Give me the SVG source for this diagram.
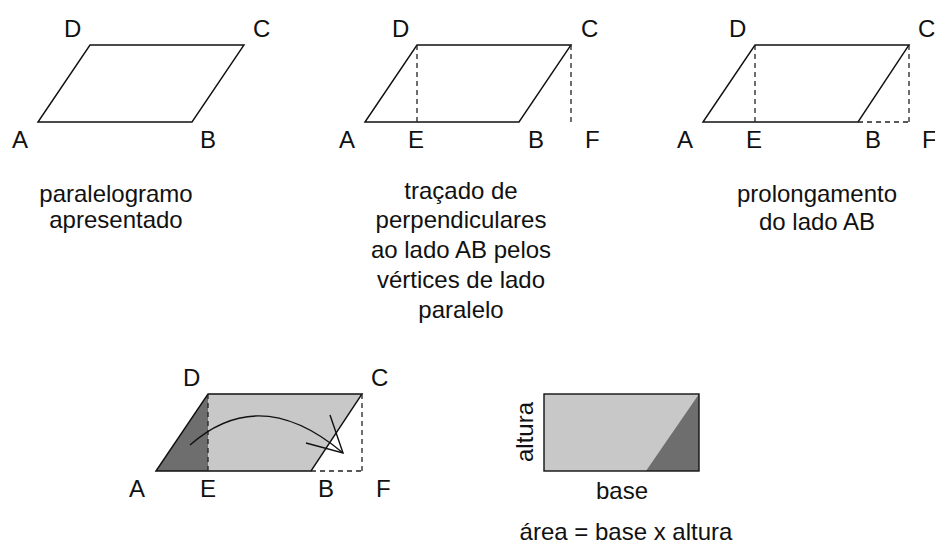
<svg xmlns="http://www.w3.org/2000/svg" width="935" height="546" viewBox="0 0 935 546">
<style>
.lbl{font-family:"Liberation Sans",Arial,sans-serif;font-size:24px;fill:#111}
.cap{font-family:"Liberation Sans",Arial,sans-serif;font-size:24px;fill:#111;text-anchor:middle}
.edge{fill:none;stroke:#111;stroke-width:1.4}
.dash{fill:none;stroke:#222;stroke-width:1.3;stroke-dasharray:5 4}
.light{fill:#c8c8c8}
.dark{fill:#6e6e6e}
</style>
<rect width="935" height="546" fill="#fff"/>

<g id="fig1">
<polygon class="edge" points="38,122 90,45 244,45 192,122"/>
<text class="lbl" x="64" y="37">D</text>
<text class="lbl" x="253" y="37">C</text>
<text class="lbl" x="12" y="148">A</text>
<text class="lbl" x="200" y="148">B</text>
<text class="cap" x="116" y="202">paralelogramo</text>
<text class="cap" x="116" y="228">apresentado</text>
</g>

<g id="fig2">
<polygon class="edge" points="365,122 417,45 571,45 519,122"/>
<text class="lbl" x="392" y="37">D</text>
<text class="lbl" x="581" y="37">C</text>
<text class="lbl" x="339" y="148">A</text>
<text class="lbl" x="408" y="148">E</text>
<text class="lbl" x="528" y="148">B</text>
<text class="lbl" x="585" y="148">F</text>
<text class="cap" x="461" y="199">traçado de</text>
<text class="cap" x="461" y="228">perpendiculares</text>
<text class="cap" x="461" y="258">ao lado AB pelos</text>
<text class="cap" x="461" y="288">vértices de lado</text>
<text class="cap" x="461" y="318">paralelo</text>
</g>

<g id="fig3">
<polygon class="edge" points="703,122 755,45 909,45 858,122"/>
<text class="lbl" x="729" y="37">D</text>
<text class="lbl" x="918" y="37">C</text>
<text class="lbl" x="677" y="148">A</text>
<text class="lbl" x="746" y="148">E</text>
<text class="lbl" x="865" y="148">B</text>
<text class="lbl" x="922" y="148">F</text>
<text class="cap" x="817" y="202">prolongamento</text>
<text class="cap" x="817" y="230">do lado AB</text>
</g>

<g id="fig4">
<polygon class="dark" points="156,471 208,394 208,471"/>
<polygon class="light" points="208,394 362,394 311,471 208,471"/>
<polygon class="edge" points="156,471 208,394 362,394 311,471"/>
<text class="lbl" x="183" y="386">D</text>
<text class="lbl" x="371" y="386">C</text>
<text class="lbl" x="129" y="497">A</text>
<text class="lbl" x="200" y="497">E</text>
<text class="lbl" x="318" y="497">B</text>
<text class="lbl" x="376" y="497">F</text>
</g>

<g id="fig5">
<rect class="light" x="544" y="394" width="155" height="77"/>
<polygon class="dark" points="699,394 699,471 646,471"/>
<rect class="edge" x="544" y="394" width="155" height="77"/>
<text class="lbl" transform="translate(533,432) rotate(-90)" text-anchor="middle">altura</text>
<text class="cap" x="622" y="499">base</text>
<text class="cap" x="626" y="540">área = base x altura</text>
</g>

<g id="connectors">
<line class="dash" x1="417" y1="45" x2="417" y2="122"/>
<line class="dash" x1="571" y1="45" x2="571" y2="122"/>
<line class="dash" x1="755" y1="45" x2="755" y2="122"/>
<line class="dash" x1="909" y1="45" x2="909" y2="122"/>
<line class="dash" x1="858" y1="122" x2="909" y2="122"/>
<line class="dash" x1="208" y1="394" x2="208" y2="471"/>
<line class="dash" x1="362" y1="394" x2="362" y2="471"/>
<line class="dash" x1="311" y1="471" x2="362" y2="471"/>
<path class="edge" d="M190,445 Q260,383 343,453"/>
<path class="edge" d="M330,415 L343,453 L306,443"/>
</g>
</svg>
